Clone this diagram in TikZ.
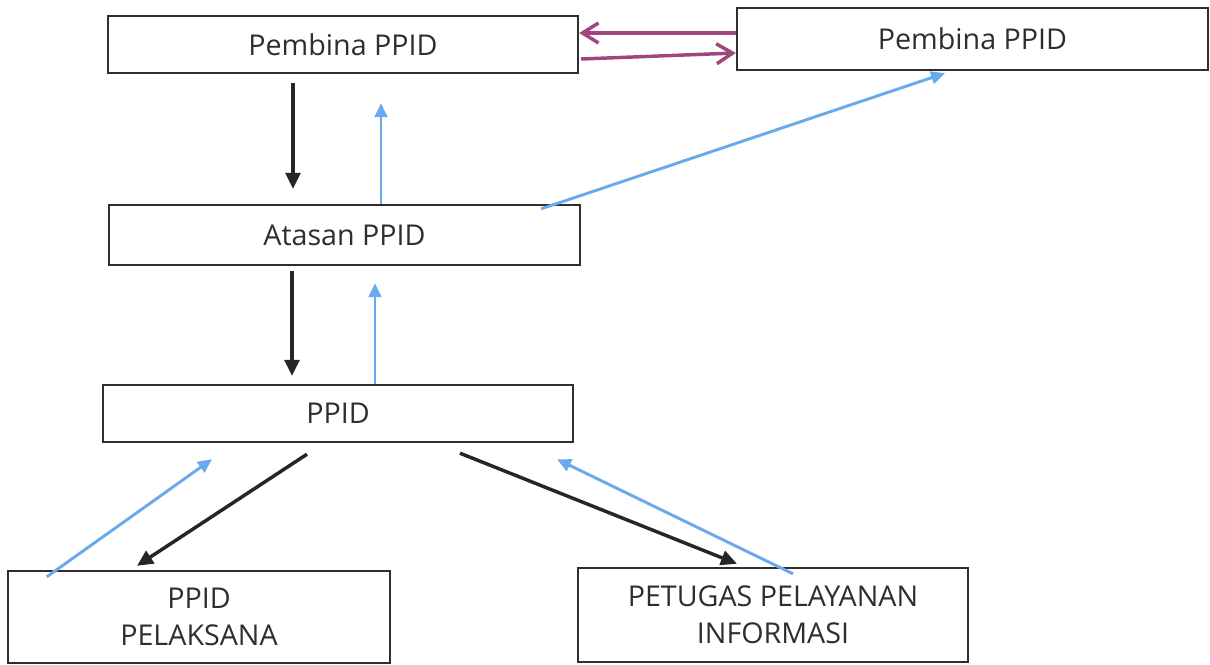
\documentclass[tikz,border=0pt]{standalone}
\usepackage{fontspec}
\setmainfont{Open Sans}
\usetikzlibrary{arrows.meta,calc}
\definecolor{boxline}{HTML}{2E2E2E}
\definecolor{txt}{HTML}{2E2E2E}
\definecolor{darkarr}{HTML}{262626}
\definecolor{bluearr}{HTML}{6AAAEC}
\definecolor{magarr}{HTML}{A0467E}
\begin{document}
\begin{tikzpicture}[x=0.75pt,y=-0.75pt,
  box/.style={draw=boxline,line width=1.8pt,rectangle,inner sep=0pt,
    text=txt,font=\fontsize{21.5}{27.75}\selectfont,align=center},
  down/.style={draw=darkarr,line width=2.6pt,-{Triangle[length=12pt,width=11pt]}},
  up/.style={draw=bluearr,line width=2.2pt,-{Triangle[length=10.5pt,width=9.5pt]}},
  mag/.style={draw=magarr,line width=2.6pt,-{Straight Barb[length=12pt,width=15pt]}}]
\useasboundingbox (0,0) rectangle (1210,664);
\node[box,minimum width={470*0.75pt},minimum height={57*0.75pt}] (pbL) at (343,44.5) {Pembina PPID};
\node[box,minimum width={471*0.75pt},minimum height={62*0.75pt}] (pbR) at (972.5,39) {Pembina PPID};
\node[box,minimum width={471*0.75pt},minimum height={60*0.75pt}] (atasan) at (344.5,235) {Atasan PPID};
\node[box,minimum width={470*0.75pt},minimum height={57*0.75pt}] (ppid) at (338,413.5) {PPID};
\node[box,minimum width={382*0.75pt},minimum height={92*0.75pt}] (pel) at (199,617) {PPID\\PELAKSANA};
\node[box,minimum width={390*0.75pt},minimum height={94*0.75pt}] (pet) at (773,615) {PETUGAS PELAYANAN\\INFORMASI};
% magenta
\draw[mag] ($(pbR.west)+(0,-6)$) -- ($(pbL.east)+(0,-11.5)$);
\draw[mag] ($(pbL.east)+(2,14.5)$) -- ($(pbR.west)+(0,14)$);
% top level
\draw[down] ($(pbL.south)+(-50,9)$) -- ($(atasan.north)+(-51.5,-15)$);
\draw[up] ($(atasan.north)+(36.5,0)$) -- ($(pbL.south)+(38,29)$);
\draw[up] ($(atasan.north east)+(-40,5)$) -- ($(pbR.south)+(-27.5,2)$);
% middle
\draw[down] ($(atasan.south)+(-52.5,5)$) -- ($(ppid.north)+(-46,-8)$);
\draw[up] ($(ppid.north)+(37,0)$) -- ($(atasan.south)+(30.5,17)$);
% bottom
\draw[down] ($(ppid.south)+(-31,11)$) -- ($(pel.north)+(-62,-4)$);
\draw[up] ($(pel.north west)+(40,7)$) -- ($(ppid.south)+(-126,16)$);
\draw[down] ($(ppid.south)+(122,10)$) -- ($(pet.north)+(-36,-3)$);
\draw[up] ($(pet.north)+(20,7)$) -- ($(ppid.south)+(219,16)$);
\end{tikzpicture}
\end{document}
